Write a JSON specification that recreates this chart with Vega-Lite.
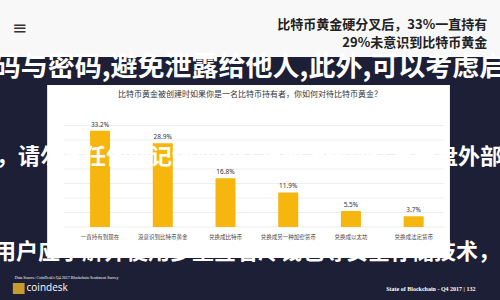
{
  "$schema": "https://vega.github.io/schema/vega-lite/v6.json",
  "width": 500,
  "height": 300,
  "autosize": {"type": "fit", "contains": "padding"},
  "padding": 0,
  "background": "#1c1f35",
  "config": {"view": {"stroke": null}, "font": "Noto Sans CJK SC"},
  "data": {"values": [{}]},
  "datasets": {
    "survey": [
      {"answer": "一直持有到现在", "rank": 1, "share": 0.332},
      {"answer": "没意识到比特币黄金", "rank": 2, "share": 0.289},
      {"answer": "兑换成比特币", "rank": 3, "share": 0.168},
      {"answer": "兑换成另一种加密货币", "rank": 4, "share": 0.119},
      {"answer": "兑换成以太坊", "rank": 5, "share": 0.055},
      {"answer": "兑换成法定货币", "rank": 6, "share": 0.037}
    ],
    "grid": [
      {"tick": 0}, {"tick": 0.05}, {"tick": 0.1}, {"tick": 0.15},
      {"tick": 0.2}, {"tick": 0.25}, {"tick": 0.3}, {"tick": 0.35}
    ]
  },
  "layer": [
    {
      "mark": {"type": "rect", "color": "#f8f8f8"},
      "encoding": {
        "y": {"datum": 0.782759, "type": "quantitative", "scale": {"domain": [-0.251724, 0.782759], "nice": false, "zero": false}, "axis": null},
        "y2": {"datum": 0.586207}
      }
    },
    {
      "mark": {"type": "rect", "color": "#ffffff"},
      "encoding": {
        "x": {"datum": 0.15625, "type": "quantitative", "scale": {"domain": [-0.515625, 7.296875], "nice": false, "zero": false}, "axis": null},
        "x2": {"datum": 6.578125},
        "y": {"datum": 0.489655, "type": "quantitative", "scale": {"domain": [-0.251724, 0.782759], "nice": false, "zero": false}, "axis": null},
        "y2": {"datum": -0.106897}
      }
    },
    {
      "data": {"name": "grid"},
      "mark": {"type": "rule", "color": "#e6e6e6", "strokeWidth": 0.7},
      "encoding": {
        "x": {"datum": 0.421875, "type": "quantitative", "scale": {"domain": [-0.515625, 7.296875], "nice": false, "zero": false}, "axis": null},
        "x2": {"datum": 6.484375},
        "y": {"field": "tick", "type": "quantitative", "scale": {"domain": [-0.251724, 0.782759], "nice": false, "zero": false}, "axis": null}
      }
    },
    {
      "data": {"name": "survey"},
      "mark": {"type": "bar", "color": "#f7b60d", "width": 20},
      "encoding": {
        "x": {"field": "rank", "type": "quantitative", "scale": {"domain": [-0.515625, 7.296875], "nice": false, "zero": false}, "axis": null},
        "y": {
          "field": "share", "type": "quantitative",
          "scale": {"domain": [-0.251724, 0.782759], "nice": false, "zero": false},
          "axis": {"values": [0, 0.05, 0.1, 0.15, 0.2, 0.25, 0.3, 0.35], "format": ".0%", "offset": -60, "domain": false, "ticks": false, "grid": false, "labelFontSize": 7, "labelColor": "#444", "labelPadding": 2, "labelFont": "Noto Sans", "title": null, "zindex": 1}
        },
        "y2": {"datum": 0}
      }
    },
    {
      "data": {"name": "survey"},
      "mark": {"type": "text", "fontSize": 6.5, "color": "#333", "baseline": "bottom", "dy": -3, "font": "Noto Sans"},
      "encoding": {
        "x": {"field": "rank", "type": "quantitative", "scale": {"domain": [-0.515625, 7.296875], "nice": false, "zero": false}, "axis": null},
        "y": {"field": "share", "type": "quantitative", "scale": {"domain": [-0.251724, 0.782759], "nice": false, "zero": false}, "axis": null},
        "text": {"field": "share", "format": ".1%"}
      }
    },
    {
      "data": {"name": "survey"},
      "mark": {"type": "text", "fontSize": 5.5, "color": "#444", "baseline": "middle"},
      "encoding": {
        "x": {"field": "rank", "type": "quantitative", "scale": {"domain": [-0.515625, 7.296875], "nice": false, "zero": false}, "axis": null},
        "y": {"datum": -0.034483, "type": "quantitative", "scale": {"domain": [-0.251724, 0.782759], "nice": false, "zero": false}, "axis": null},
        "text": {"field": "answer"}
      }
    },
    {
      "mark": {"type": "text", "text": "比特币黄金被创建时如果你是一名比特币持有者，你如何对待比特币黄金？", "fontSize": 8, "color": "#333", "baseline": "middle"},
      "encoding": {
        "x": {"datum": 3.390625, "type": "quantitative", "scale": {"domain": [-0.515625, 7.296875], "nice": false, "zero": false}, "axis": null},
        "y": {"datum": 0.455172, "type": "quantitative", "scale": {"domain": [-0.251724, 0.782759], "nice": false, "zero": false}, "axis": null}
      }
    },
    {
      "mark": {"type": "text", "text": "比特币黄金硬分叉后，33%一直持有", "fontSize": 13, "fontWeight": "bold", "color": "#222", "align": "right", "baseline": "middle"},
      "encoding": {
        "x": {"datum": 7.171875, "type": "quantitative", "scale": {"domain": [-0.515625, 7.296875], "nice": false, "zero": false}, "axis": null},
        "y": {"datum": 0.696552, "type": "quantitative", "scale": {"domain": [-0.251724, 0.782759], "nice": false, "zero": false}, "axis": null}
      }
    },
    {
      "mark": {"type": "text", "text": "29%未意识到比特币黄金", "fontSize": 13, "fontWeight": "bold", "color": "#222", "align": "right", "baseline": "middle"},
      "encoding": {
        "x": {"datum": 7.171875, "type": "quantitative", "scale": {"domain": [-0.515625, 7.296875], "nice": false, "zero": false}, "axis": null},
        "y": {"datum": 0.634483, "type": "quantitative", "scale": {"domain": [-0.251724, 0.782759], "nice": false, "zero": false}, "axis": null}
      }
    },
    {
      "mark": {"type": "text", "text": "≡", "fontSize": 18, "color": "#333", "baseline": "middle", "font": "DejaVu Sans"},
      "encoding": {
        "x": {"datum": -0.28125, "type": "quantitative", "scale": {"domain": [-0.515625, 7.296875], "nice": false, "zero": false}, "axis": null},
        "y": {"datum": 0.682759, "type": "quantitative", "scale": {"domain": [-0.251724, 0.782759], "nice": false, "zero": false}, "axis": null}
      }
    },
    {
      "mark": {"type": "text", "text": "Data Source: CoinDesk's Q4 2017 Blockchain Sentiment Survey", "fontSize": 4, "color": "#ffffff", "align": "left", "baseline": "middle", "font": "Liberation Serif"},
      "encoding": {
        "x": {"datum": -0.359375, "type": "quantitative", "scale": {"domain": [-0.515625, 7.296875], "nice": false, "zero": false}, "axis": null},
        "y": {"datum": -0.175862, "type": "quantitative", "scale": {"domain": [-0.251724, 0.782759], "nice": false, "zero": false}, "axis": null}
      }
    },
    {
      "mark": {"type": "rect", "color": "#c99a2e"},
      "encoding": {
        "x": {"datum": -0.390625, "type": "quantitative", "scale": {"domain": [-0.515625, 7.296875], "nice": false, "zero": false}, "axis": null},
        "x2": {"datum": -0.203125},
        "y": {"datum": -0.193103, "type": "quantitative", "scale": {"domain": [-0.251724, 0.782759], "nice": false, "zero": false}, "axis": null},
        "y2": {"datum": -0.231034}
      }
    },
    {
      "mark": {"type": "text", "text": "coindesk", "fontSize": 10, "color": "#ffffff", "align": "left", "baseline": "middle", "font": "Open Sans"},
      "encoding": {
        "x": {"datum": -0.171875, "type": "quantitative", "scale": {"domain": [-0.515625, 7.296875], "nice": false, "zero": false}, "axis": null},
        "y": {"datum": -0.210345, "type": "quantitative", "scale": {"domain": [-0.251724, 0.782759], "nice": false, "zero": false}, "axis": null}
      }
    },
    {
      "mark": {"type": "text", "text": "State of Blockchain - Q4 2017    |    132", "fontSize": 6, "fontWeight": "bold", "color": "#ffffff", "align": "right", "baseline": "middle", "font": "Liberation Serif"},
      "encoding": {
        "x": {"datum": 6.984375, "type": "quantitative", "scale": {"domain": [-0.515625, 7.296875], "nice": false, "zero": false}, "axis": null},
        "y": {"datum": -0.213793, "type": "quantitative", "scale": {"domain": [-0.251724, 0.782759], "nice": false, "zero": false}, "axis": null}
      }
    },
    {
      "mark": {"type": "text", "text": "码与密码,避免泄露给他人,此外,可以考虑启", "fontSize": 27, "fontWeight": "bold", "color": "#ffffff", "baseline": "middle", "clip": true},
      "encoding": {
        "x": {"datum": 3.390625, "type": "quantitative", "scale": {"domain": [-0.515625, 7.296875], "nice": false, "zero": false}, "axis": null},
        "y": {"datum": 0.548276, "type": "quantitative", "scale": {"domain": [-0.251724, 0.782759], "nice": false, "zero": false}, "axis": null}
      }
    },
    {
      "mark": {"type": "text", "text": "，请勿将任何助记词截图保存或上传到任意云盘外部", "fontSize": 22, "fontWeight": "bold", "color": "#ffffff", "baseline": "middle", "clip": true},
      "encoding": {
        "x": {"datum": 3.375, "type": "quantitative", "scale": {"domain": [-0.515625, 7.296875], "nice": false, "zero": false}, "axis": null},
        "y": {"datum": 0.241379, "type": "quantitative", "scale": {"domain": [-0.251724, 0.782759], "nice": false, "zero": false}, "axis": null}
      }
    },
    {
      "mark": {"type": "text", "text": "用户应了解并使用多重签名冷钱包等安全存储技术，", "fontSize": 22, "fontWeight": "bold", "color": "#ffffff", "baseline": "middle", "clip": true},
      "encoding": {
        "x": {"datum": 3.34375, "type": "quantitative", "scale": {"domain": [-0.515625, 7.296875], "nice": false, "zero": false}, "axis": null},
        "y": {"datum": -0.086207, "type": "quantitative", "scale": {"domain": [-0.251724, 0.782759], "nice": false, "zero": false}, "axis": null}
      }
    }
  ]
}
